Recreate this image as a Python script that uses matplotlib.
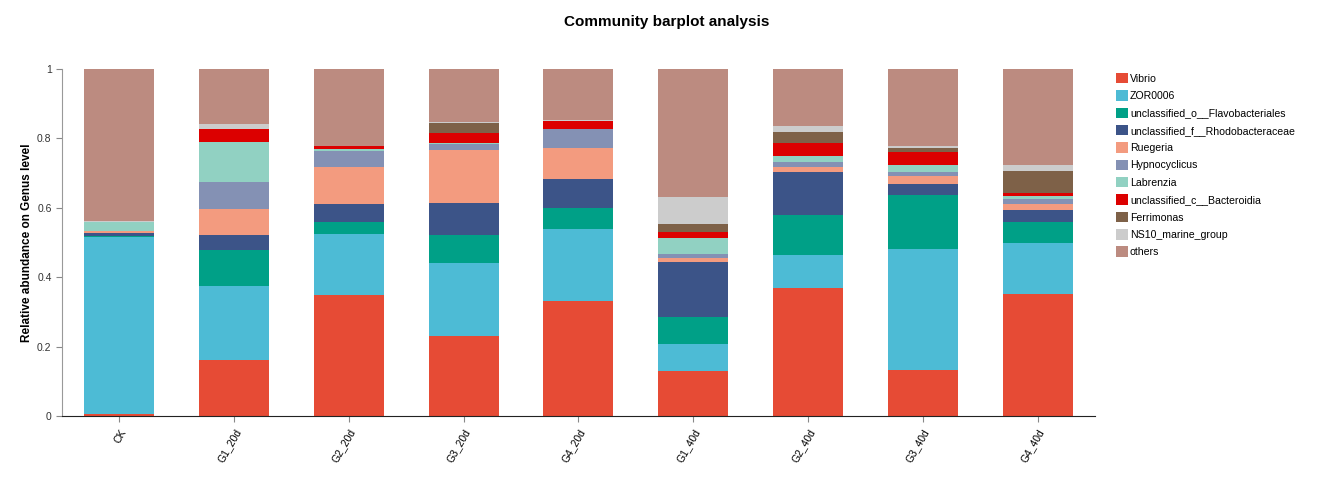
import numpy as np
import matplotlib
matplotlib.use("Agg")
import matplotlib.pyplot as plt
from matplotlib.patches import Patch

plt.rcParams['font.family'] = ['Liberation Sans', 'DejaVu Sans']

samples = ["CK", "G1_20d", "G2_20d", "G3_20d", "G4_20d",
           "G1_40d", "G2_40d", "G3_40d", "G4_40d"]

genera = ["Vibrio", "ZOR0006", "unclassified_o__Flavobacteriales",
          "unclassified_f__Rhodobacteraceae", "Ruegeria", "Hypnocyclicus",
          "Labrenzia", "unclassified_c__Bacteroidia", "Ferrimonas",
          "NS10_marine_group", "others"]

colors = ["#E64B35", "#4DBBD5", "#00A087", "#3C5488", "#F39B7F", "#8491B4",
          "#91D1C2", "#DC0000", "#7E6148", "#CCCCCC", "#BC8B80"]

# cumulative tops, one list per genus (others fills to 1)
vibrio      = [0.006, 0.161, 0.348, 0.231, 0.331, 0.131, 0.369, 0.133, 0.352]
zor0006     = [0.517, 0.376, 0.525, 0.442, 0.539, 0.207, 0.464, 0.481, 0.499]
flavo       = [0.519, 0.478, 0.560, 0.522, 0.599, 0.285, 0.580, 0.637, 0.559]
rhodo       = [0.528, 0.522, 0.611, 0.614, 0.684, 0.444, 0.703, 0.669, 0.594]
ruegeria    = [0.532, 0.597, 0.719, 0.767, 0.771, 0.456, 0.719, 0.693, 0.612]
hypno       = [0.534, 0.674, 0.765, 0.784, 0.826, 0.468, 0.732, 0.703, 0.626]
labrenzia   = [0.559, 0.790, 0.769, 0.786, 0.828, 0.512, 0.749, 0.723, 0.634]
bacteroidia = [0.559, 0.826, 0.777, 0.817, 0.850, 0.531, 0.788, 0.760, 0.642]
ferrimonas  = [0.559, 0.826, 0.777, 0.845, 0.850, 0.553, 0.818, 0.773, 0.705]
ns10        = [0.561, 0.843, 0.779, 0.848, 0.852, 0.631, 0.836, 0.778, 0.723]

tops = np.array([vibrio, zor0006, flavo, rhodo, ruegeria, hypno,
                 labrenzia, bacteroidia, ferrimonas, ns10,
                 [1.0] * len(samples)])
values = np.diff(np.vstack([np.zeros(len(samples)), tops]), axis=0)

fig = plt.figure(figsize=(13.2, 4.8), dpi=100)
ax = fig.add_axes([0.047, 0.1333, 0.7825, 0.7229])

x = np.arange(len(samples))
bottom = np.zeros(len(samples))
for name, col, v in zip(genera, colors, values):
    ax.bar(x, v, width=0.61, bottom=bottom, color=col, linewidth=0)
    bottom += v

ax.set_xlim(-0.5, len(samples) - 0.5)
ax.set_ylim(0, 1)
ax.set_yticks([0, 0.2, 0.4, 0.6, 0.8, 1.0])
ax.set_yticklabels(["0", "0.2", "0.4", "0.6", "0.8", "1"], color="#333333")
ax.set_xticks(x)
ax.set_xticklabels(samples, rotation=60, ha="right", rotation_mode="anchor")
ax.tick_params(axis="both", labelsize=7.5, length=4, color="#888888")
ax.tick_params(axis="x", pad=4)
for s in ["top", "right"]:
    ax.spines[s].set_visible(False)
ax.spines["left"].set_color("#999999")
ax.spines["bottom"].set_color("#222222")
ax.set_ylabel("Relative abundance on Genus level", fontsize=8.5,
              fontweight="bold", labelpad=3)

fig.text(0.505, 0.955, "Community barplot analysis", ha="center", va="center",
         fontsize=11, fontweight="bold")

handles = [Patch(facecolor=c, edgecolor="none") for c in colors]
fig.legend(handles, genera, loc="upper left", bbox_to_anchor=(0.842, 0.857),
           frameon=False, fontsize=7.6, handlelength=1.15, handleheight=1.15,
           handletextpad=0.2, labelspacing=0.62, borderaxespad=0)

fig.savefig("out.png", dpi=100)
